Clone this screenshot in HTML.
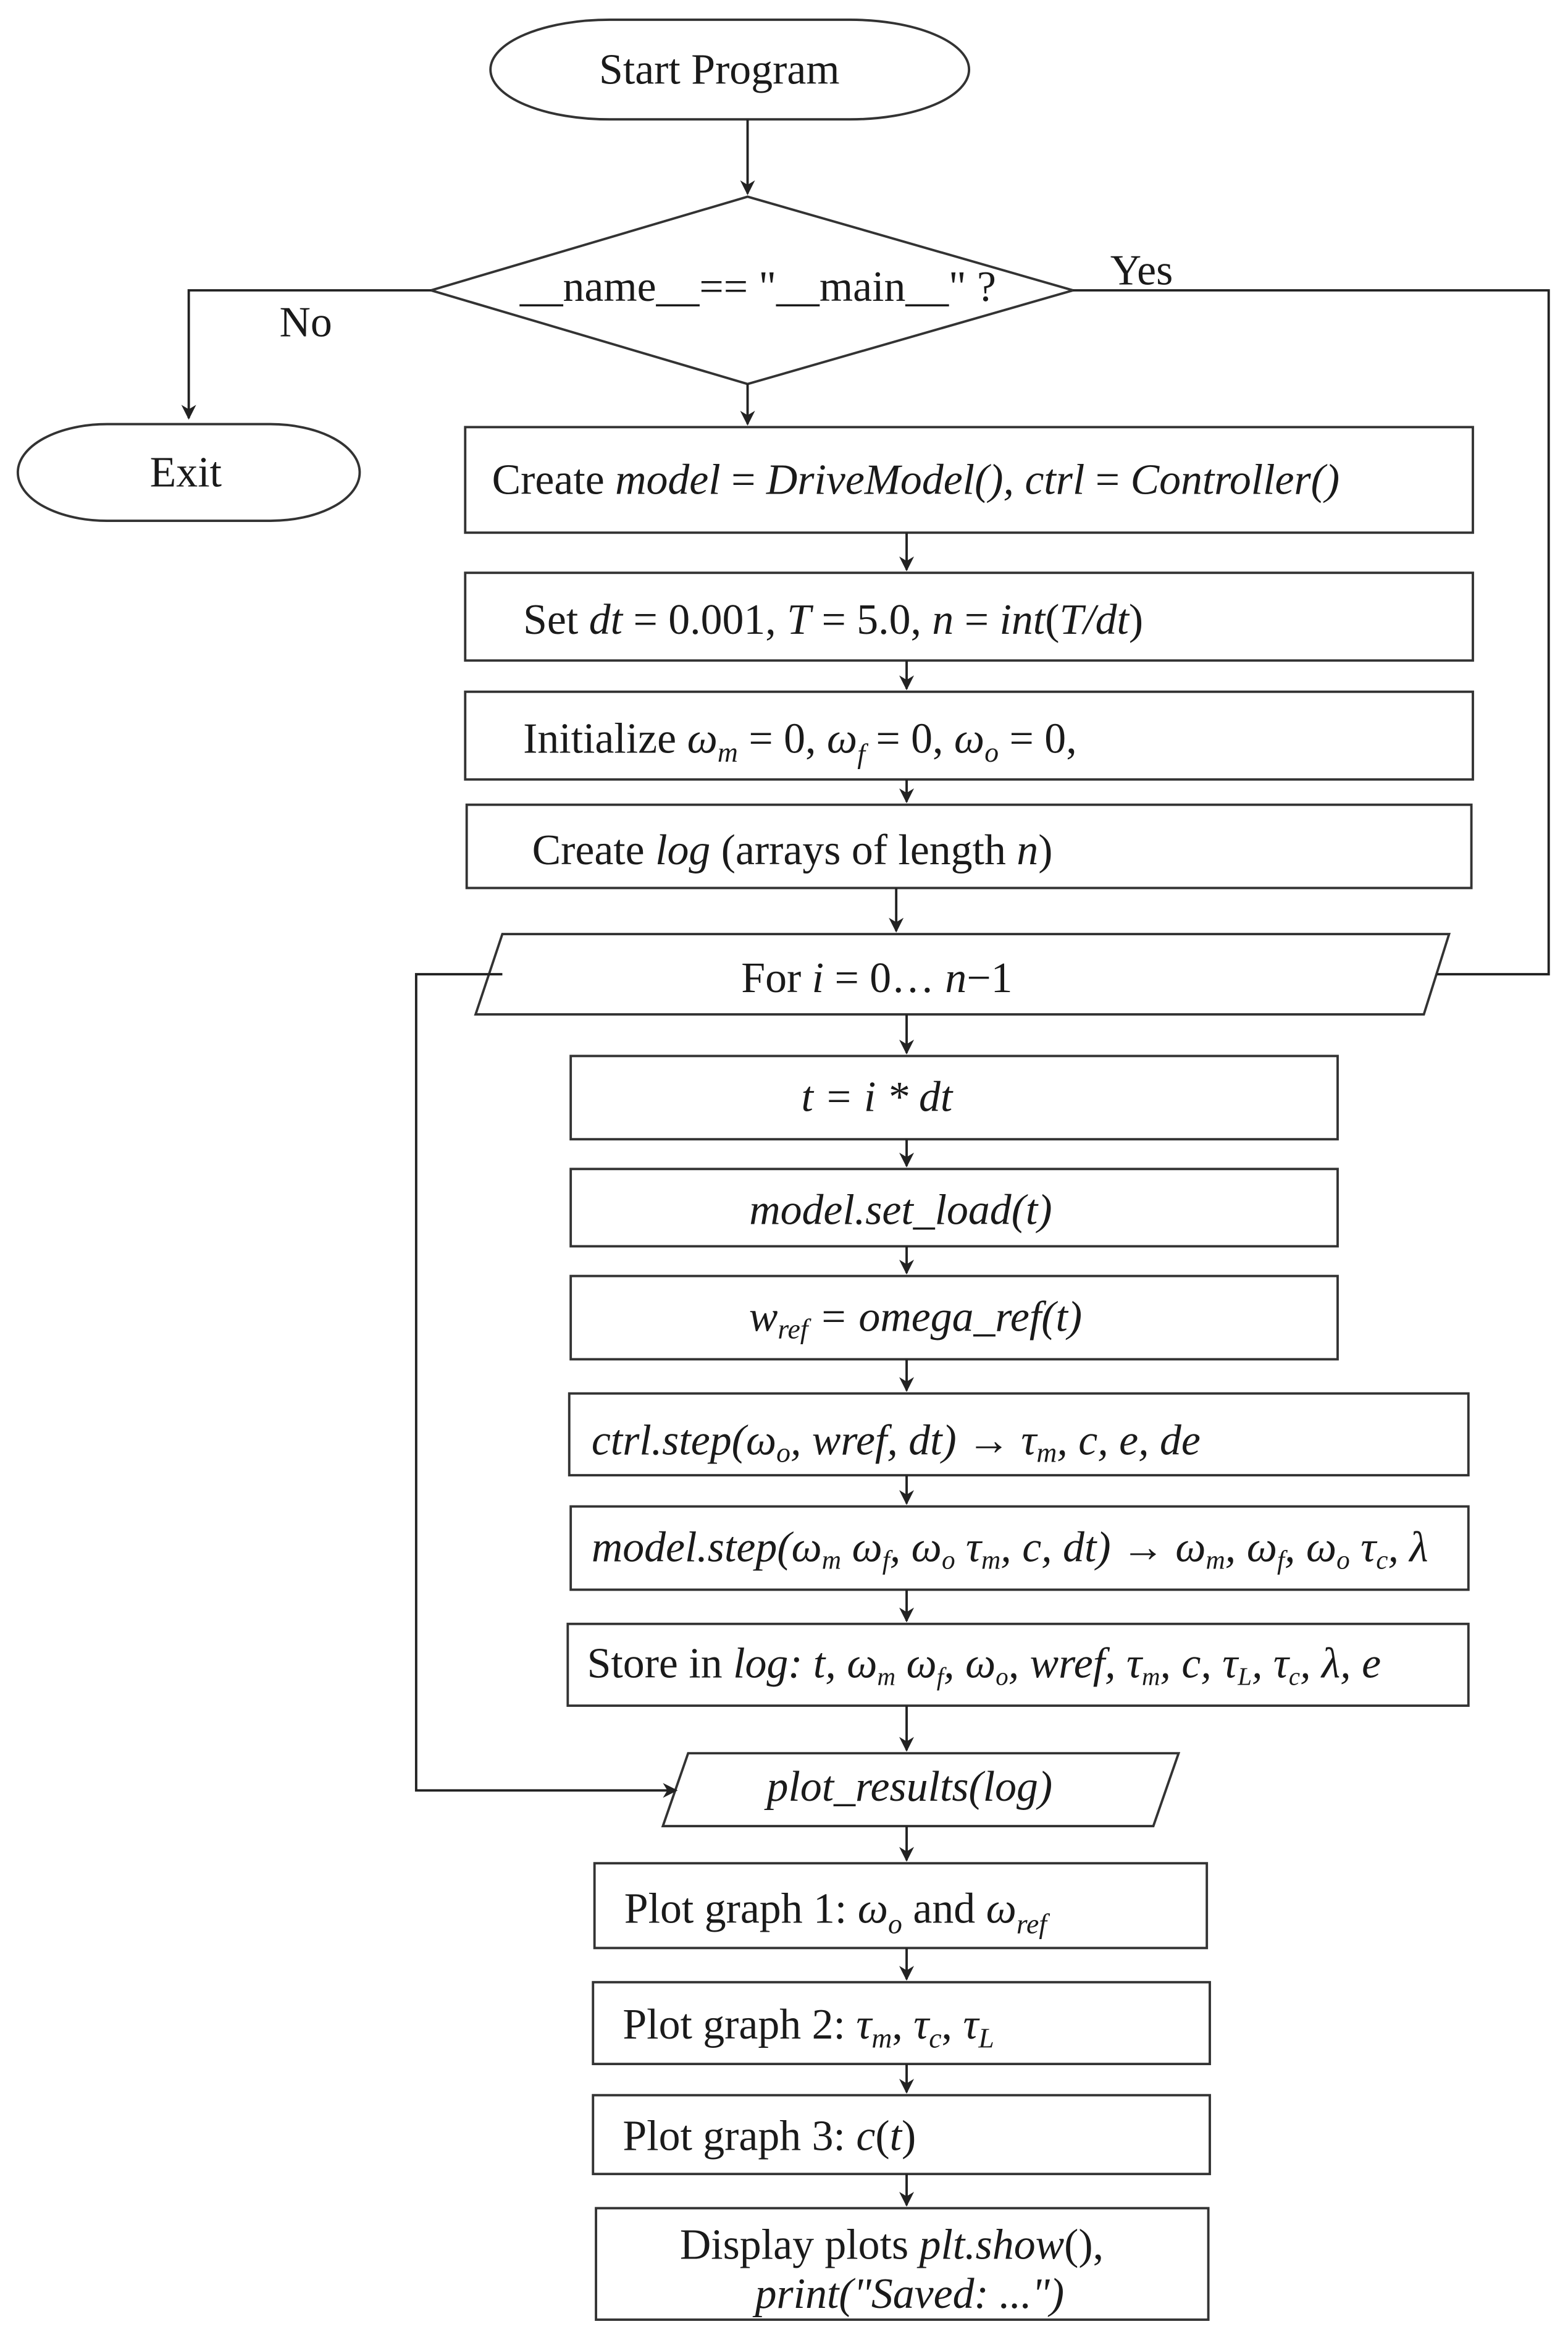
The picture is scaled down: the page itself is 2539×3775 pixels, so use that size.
<!DOCTYPE html>
<html><head><meta charset="utf-8"><style>
html,body{margin:0;padding:0;background:#fff}
svg{display:block}
text{font-family:"Liberation Serif",serif;font-size:29px;fill:#1a1a1a}
.i{font-style:italic}
</style></head><body>
<svg width="2539" height="3775" viewBox="0 0 1055 1568" xmlns="http://www.w3.org/2000/svg">
<defs><marker id="a" markerWidth="10" markerHeight="10" refX="9" refY="5" orient="auto" markerUnits="userSpaceOnUse"><path d="M0,0 L10,5 L0,10 L3,5 Z" fill="#222"/></marker></defs>
<g fill="none" stroke="#333" stroke-width="1.6">
<rect x="330" y="13" width="322" height="67" rx="80" ry="33.5"/>
<polygon points="503,132 722,195 503,258 290,195"/>
<rect x="12" y="285" width="230" height="65" rx="60" ry="32.5"/>
<rect x="313" y="287" width="678" height="71"/>
<rect x="313" y="385" width="678" height="59"/>
<rect x="313" y="465" width="678" height="59"/>
<rect x="314" y="541" width="676" height="56"/>
<polygon points="338,628 975,628 958,682 320,682"/>
<rect x="384" y="710" width="516" height="56"/>
<rect x="384" y="786" width="516" height="52"/>
<rect x="384" y="858" width="516" height="56"/>
<rect x="383" y="937" width="605" height="55"/>
<rect x="384" y="1013" width="604" height="56"/>
<rect x="382" y="1092" width="606" height="55"/>
<polygon points="463,1179 793,1179 776,1228 446,1228"/>
<rect x="400" y="1253" width="412" height="57"/>
<rect x="399" y="1333" width="415" height="55"/>
<rect x="399" y="1409" width="415" height="53"/>
<rect x="401" y="1485" width="412" height="75"/>
</g>
<g fill="none" stroke="#222" stroke-width="1.6" marker-end="url(#a)">
<path d="M503,80 V130"/>
<path d="M290,195 H127 V281"/>
<path d="M503,258 V285"/>
<path d="M610,358 V383"/>
<path d="M610,444 V463"/>
<path d="M610,524 V539"/>
<path d="M603,597 V626"/>
<path d="M610,682 V708"/>
<path d="M610,766 V784"/>
<path d="M610,838 V856"/>
<path d="M610,914 V935"/>
<path d="M610,992 V1011"/>
<path d="M610,1069 V1090"/>
<path d="M610,1147 V1177"/>
<path d="M610,1228 V1251"/>
<path d="M610,1310 V1331"/>
<path d="M610,1388 V1407"/>
<path d="M610,1462 V1483"/>
<path d="M338,655 H280 V1204 H455"/>
</g>
<path d="M722,195 H1042 V655 H967" fill="none" stroke="#222" stroke-width="1.6"/>
<text x="484" y="56" text-anchor="middle">Start Program</text>
<text x="510" y="202" text-anchor="middle">__name__== "__main__" ?</text>
<text x="747" y="191">Yes</text>
<text x="188" y="226">No</text>
<text x="125" y="327" text-anchor="middle">Exit</text>
<text x="331" y="332">Create <tspan class="i">model</tspan>  =  <tspan class="i">DriveModel(), ctrl</tspan> = <tspan class="i">Controller()</tspan></text>
<text x="352" y="426">Set <tspan class="i">dt</tspan> = 0.001, <tspan class="i">T</tspan> = 5.0, <tspan class="i">n</tspan> = <tspan class="i">int</tspan>(<tspan class="i">T/dt</tspan>)</text>
<text x="352" y="506">Initialize <tspan class="i">ω</tspan><tspan class="i" font-size="19" dy="6">m</tspan><tspan dy="-6"> = 0, </tspan><tspan class="i">ω</tspan><tspan class="i" font-size="19" dy="7">f</tspan><tspan dy="-7">  = 0, </tspan><tspan class="i">ω</tspan><tspan class="i" font-size="19" dy="6">o</tspan><tspan dy="-6"> = 0,</tspan></text>
<text x="358" y="581">Create <tspan class="i">log</tspan> (arrays of length <tspan class="i">n</tspan>)</text>
<text x="590" y="667" text-anchor="middle">For <tspan class="i">i</tspan> = 0… <tspan class="i">n</tspan>−1</text>
<text x="590" y="747" text-anchor="middle" class="i">t = i * dt</text>
<text x="606" y="823" text-anchor="middle" class="i">model.set_load(t)</text>
<text x="616" y="895" text-anchor="middle" class="i">w<tspan font-size="19" dy="5">ref</tspan><tspan dy="-5"> = omega_ref(t)</tspan></text>
<text x="398" y="978" class="i">ctrl.step(ω<tspan font-size="19" dy="5">o</tspan><tspan dy="-5">, wref, dt) → τ</tspan><tspan font-size="19" dy="5">m</tspan><tspan dy="-5">, c, e, de</tspan></text>
<text x="398" y="1050" class="i" font-size="27">model.step(ω<tspan font-size="18" dy="5">m</tspan><tspan dy="-5"> ω</tspan><tspan font-size="18" dy="5">f</tspan><tspan dy="-5">, ω</tspan><tspan font-size="18" dy="5">o</tspan><tspan dy="-5"> τ</tspan><tspan font-size="18" dy="5">m</tspan><tspan dy="-5">, c, dt) → ω</tspan><tspan font-size="18" dy="5">m</tspan><tspan dy="-5">, ω</tspan><tspan font-size="18" dy="5">f</tspan><tspan dy="-5">, ω</tspan><tspan font-size="18" dy="5">o</tspan><tspan dy="-5"> τ</tspan><tspan font-size="18" dy="5">c</tspan><tspan dy="-5">, λ</tspan></text>
<text x="395" y="1128" font-size="26">Store in <tspan class="i">log: t, ω</tspan><tspan class="i" font-size="17" dy="5">m</tspan><tspan class="i" dy="-5"> ω</tspan><tspan class="i" font-size="17" dy="5">f</tspan><tspan class="i" dy="-5">, ω</tspan><tspan class="i" font-size="17" dy="5">o</tspan><tspan class="i" dy="-5">, wref, τ</tspan><tspan class="i" font-size="17" dy="5">m</tspan><tspan class="i" dy="-5">, c, τ</tspan><tspan class="i" font-size="17" dy="5">L</tspan><tspan class="i" dy="-5">, τ</tspan><tspan class="i" font-size="17" dy="5">c</tspan><tspan class="i" dy="-5">, λ, e</tspan></text>
<text x="612" y="1211" text-anchor="middle" class="i">plot_results(log)</text>
<text x="420" y="1293">Plot graph 1: <tspan class="i">ω</tspan><tspan class="i" font-size="19" dy="7">o</tspan><tspan dy="-7"> and </tspan><tspan class="i">ω</tspan><tspan class="i" font-size="19" dy="7">ref</tspan></text>
<text x="419" y="1371">Plot graph 2: <tspan class="i">τ</tspan><tspan class="i" font-size="19" dy="6">m</tspan><tspan dy="-6">, </tspan><tspan class="i">τ</tspan><tspan class="i" font-size="19" dy="6">c</tspan><tspan dy="-6">,  </tspan><tspan class="i">τ</tspan><tspan class="i" font-size="19" dy="6">L</tspan></text>
<text x="419" y="1446">Plot graph 3: <tspan class="i">c</tspan>(<tspan class="i">t</tspan>)</text>
<text x="600" y="1519" text-anchor="middle">Display plots <tspan class="i">plt.show</tspan>(),</text>
<text x="612" y="1552" text-anchor="middle" class="i">print("Saved: ...")</text>
</svg>
</body></html>
